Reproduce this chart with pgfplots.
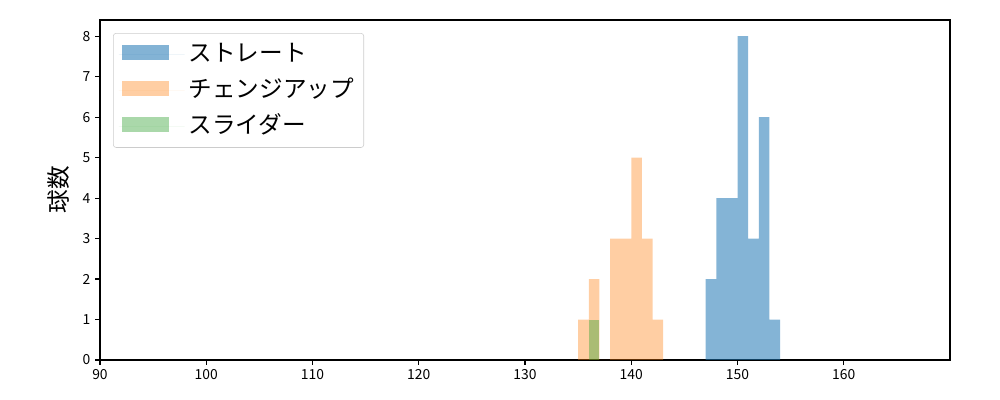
\documentclass[border=0pt]{standalone}
\usepackage{fontspec}
\setmainfont{Noto Sans CJK JP}
\usepackage{pgfplots}
\pgfplotsset{compat=1.18}
\usetikzlibrary{calc}

\definecolor{c0}{HTML}{1F77B4}
\definecolor{c1}{HTML}{FF7F0E}
\definecolor{c2}{HTML}{2CA02C}

\begin{document}
\begin{tikzpicture}
\begin{axis}[
    name=ax,
    scale only axis,
    width=612pt, height=244.8pt,
    xmin=90, xmax=170,
    ymin=0, ymax=8.4,
    xtick={90,100,...,160},
    ytick={0,1,...,8},
    tick align=outside,
    xtick pos=left, ytick pos=left,
    major tick length=3.5pt,
    every tick/.style={line width=0.8pt, black},
    axis line style={line width=0.8pt},
    /pgf/number format/assume math mode=true,
    tick label style={font=\fontsize{10}{12}\selectfont},
    ylabel={球数},
    every axis y label/.style={at={(axis description cs:0,0.5)}, xshift=-30pt,
        rotate=90, anchor=center, font=\fontsize{17}{20}\selectfont},
    legend cell align=left,
    legend style={
        at={(0,1)}, anchor=north west, xshift=9.4pt, yshift=-9.4pt,
        font=\fontsize{17}{20}\selectfont,
        draw=black!20, rounded corners=2pt, fill=white, fill opacity=0.8, text opacity=1,
        row sep=7.9pt, inner xsep=4pt, inner ysep=6.2pt,
        nodes={text height=12pt, text depth=2pt, inner ysep=2pt, inner xsep=3pt},
    },
    legend image code/.code={
        \fill[#1, sharp corners] (0pt,-4pt) rectangle (33.8pt,6.8pt);
        \path (-2pt,0pt) -- (45.3pt,0pt);
    },
]
% ストレート
\addplot[ybar interval, fill=c0, fill opacity=0.55, draw=none] coordinates {
    (147,2) (148,4) (149,4) (150,8) (151,3) (152,6) (153,1) (154,1)
};
\addlegendentry{ストレート}
% チェンジアップ
\addplot[ybar interval, fill=c1, fill opacity=0.38, draw=none] coordinates {
    (135,1) (136,2) (137,0) (138,3) (139,3) (140,5) (141,3) (142,1) (143,1)
};
\addlegendentry{チェンジアップ}
% スライダー
\addplot[ybar interval, fill=c2, fill opacity=0.4, draw=none] coordinates {
    (136,1) (137,1)
};
\addlegendentry{スライダー}
\end{axis}
\pgfresetboundingbox
\path ($(ax.south west)+(-72pt,-28.8pt)$) rectangle ($(ax.north east)+(36pt,14.4pt)$);
\end{tikzpicture}
\end{document}
